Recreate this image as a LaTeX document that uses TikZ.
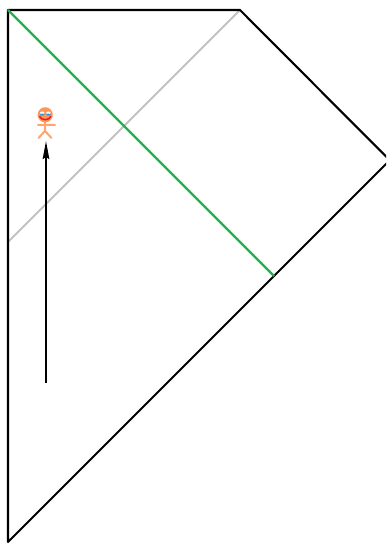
\documentclass[tikz,border=0pt]{standalone}
\usetikzlibrary{arrows.meta}
\definecolor{grn}{RGB}{34,177,76}
\definecolor{gry}{RGB}{195,195,195}
\definecolor{skin}{RGB}{255,165,110}
\definecolor{head}{RGB}{255,150,85}
\definecolor{eyeb}{RGB}{40,160,230}
\definecolor{mouth}{RGB}{230,30,40}
\tikzset{
  edge/.style={draw=black,line width=2.1bp,line cap=round,line join=round},
  limb/.style={draw=skin,line width=2bp,line cap=round},
}
\begin{document}
\begin{tikzpicture}[x=1bp,y=-1bp]
\useasboundingbox (0,0) rectangle (386,544);
\fill[white] (0,0) rectangle (386,544);
\clip (0,0) rectangle (386,544);
\coordinate (tl) at (8,10);
\coordinate (tr) at (240,10);
\coordinate (r) at (389.75,160.25);
\coordinate (b) at (8,542);
\coordinate (gl) at (8,242);
\coordinate (ge) at (274,276);
\coordinate (as) at (46,383);
\coordinate (ae) at (46,141);
\draw[gry,line width=2.1bp] (tr) -- (gl);
\draw[edge] (b) -- (tl) -- (tr) -- (r) -- (b);
\draw[grn,line width=2.2bp] (tl) -- (ge);
\draw[black,line width=2bp,-{Stealth[length=18bp,width=6.5bp,inset=2bp]}] (as) -- (ae);
% figure
\coordinate (hc) at (45.2,114.8);
\coordinate (neck) at (45,122);
\coordinate (hip) at (45,131);
\coordinate (al) at (38,125);
\coordinate (ar) at (55,125);
\coordinate (ll) at (38.5,138);
\coordinate (lr) at (51.5,138);
\draw[limb] (neck) -- (hip) (al) -- (ar) (ll) -- (hip) -- (lr);
\fill[head] (hc) circle (7.6bp);
\fill[white] (42.2,112.8) ellipse (2.2bp and 1.3bp) (48.4,112.8) ellipse (2.2bp and 1.3bp);
\fill[eyeb] (42.2,114.6) ellipse (2.2bp and 1bp) (48.4,114.6) ellipse (2.2bp and 1bp);
\draw[mouth,line width=1.5bp] (39.5,116.2) .. controls (41,120.8) and (49.5,120.8) .. (51,116.2);
\end{tikzpicture}
\end{document}
